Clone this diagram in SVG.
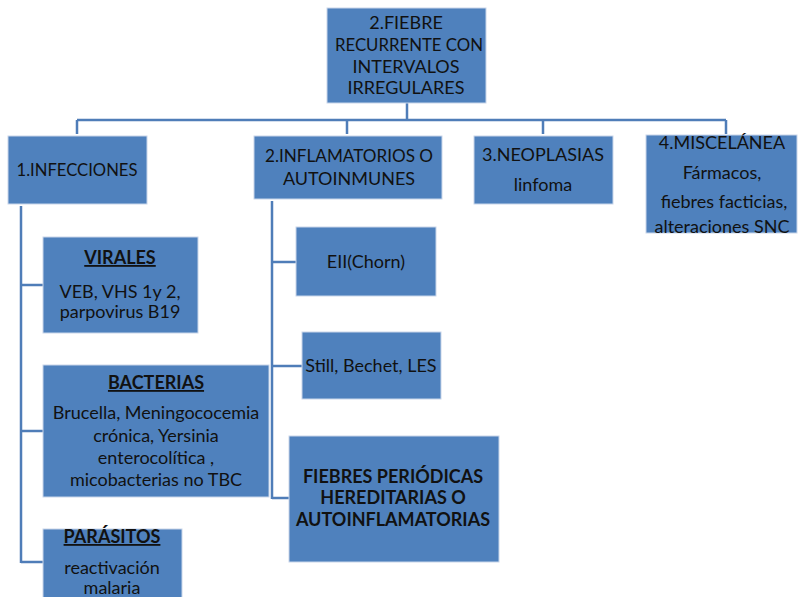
<svg xmlns="http://www.w3.org/2000/svg" width="798" height="597" viewBox="0 0 798 597">
  <style>
    .box { fill: #4F81BD; stroke: #C9D6EA; stroke-width: 1; }
    .wire { fill: none; stroke: #4F7DB8; stroke-width: 2.5; }
    text { font-family: Lato, "Open Sans", sans-serif; font-size: 18px; fill: #111; text-anchor: middle; }
    .b { font-weight: bold; }
    .u { font-weight: bold; text-decoration: underline; }
  </style>
  <rect width="798" height="597" fill="#fff"/>

  <g id="connectors">
    <path class="wire" d="M407 103 V120 M77 120 H726 M77 120 V134 M347 120 V134 M543 120 V134 M726 120 V134"/>
    <path class="wire" d="M21 206 V563 M21 285 H43 M21 431 H43 M21 562 H43"/>
    <path class="wire" d="M272 201 V499 M272 262 H296 M272 366 H302 M272 498 H289"/>
  </g>

  <g id="root">
    <rect class="box" x="327" y="8" width="159" height="95"/>
    <text x="406" y="29">2.FIEBRE</text>
    <text x="409" y="51" textLength="148" lengthAdjust="spacingAndGlyphs">RECURRENTE CON</text>
    <text x="406" y="73">INTERVALOS</text>
    <text x="406" y="94">IRREGULARES</text>
  </g>

  <g id="infecciones">
    <rect class="box" x="8" y="136" width="139" height="68"/>
    <text x="77" y="176" textLength="121" lengthAdjust="spacingAndGlyphs">1.INFECCIONES</text>
  </g>

  <g id="virales">
    <rect class="box" x="43" y="237" width="155" height="96"/>
    <text class="u" x="120" y="264">VIRALES</text>
    <text x="120" y="298">VEB, VHS 1y 2,</text>
    <text x="120" y="318">parpovirus B19</text>
  </g>

  <g id="bacterias">
    <rect class="box" x="43" y="365" width="226" height="132"/>
    <text class="u" x="156" y="389">BACTERIAS</text>
    <text x="156" y="419">Brucella, Meningococemia</text>
    <text x="156" y="442">crónica, Yersinia</text>
    <text x="156" y="464">enterocolítica ,</text>
    <text x="156" y="486">micobacterias no TBC</text>
  </g>

  <g id="parasitos">
    <rect class="box" x="43" y="529" width="139" height="75"/>
    <text class="u" x="112" y="543">PARÁSITOS</text>
    <text x="112" y="574">reactivación</text>
    <text x="112" y="594">malaria</text>
  </g>

  <g id="inflamatorios">
    <rect class="box" x="254" y="136" width="188" height="63"/>
    <text x="349" y="162" textLength="168" lengthAdjust="spacingAndGlyphs">2.INFLAMATORIOS  O</text>
    <text x="349" y="185">AUTOINMUNES</text>
  </g>

  <g id="eii">
    <rect class="box" x="296" y="227" width="140" height="69"/>
    <text x="366" y="268">EII(Chorn)</text>
  </g>

  <g id="still">
    <rect class="box" x="302" y="332" width="139" height="67"/>
    <text x="371" y="372">Still, Bechet, LES</text>
  </g>

  <g id="periodicas">
    <rect class="box" x="289" y="436" width="210" height="126"/>
    <text class="b" x="393" y="483">FIEBRES PERIÓDICAS</text>
    <text class="b" x="393" y="504">HEREDITARIAS O</text>
    <text class="b" x="393" y="526">AUTOINFLAMATORIAS</text>
  </g>

  <g id="neoplasias">
    <rect class="box" x="474" y="136" width="139" height="68"/>
    <text x="543" y="161">3.NEOPLASIAS</text>
    <text x="543" y="191">linfoma</text>
  </g>

  <g id="miscelanea">
    <rect class="box" x="646" y="135" width="151" height="98"/>
    <text x="722" y="149">4.MISCELÁNEA</text>
    <text x="722" y="179">Fármacos,</text>
    <text x="724" y="208">fiebres facticias,</text>
    <text x="722" y="233">alteraciones SNC</text>
  </g>
</svg>
